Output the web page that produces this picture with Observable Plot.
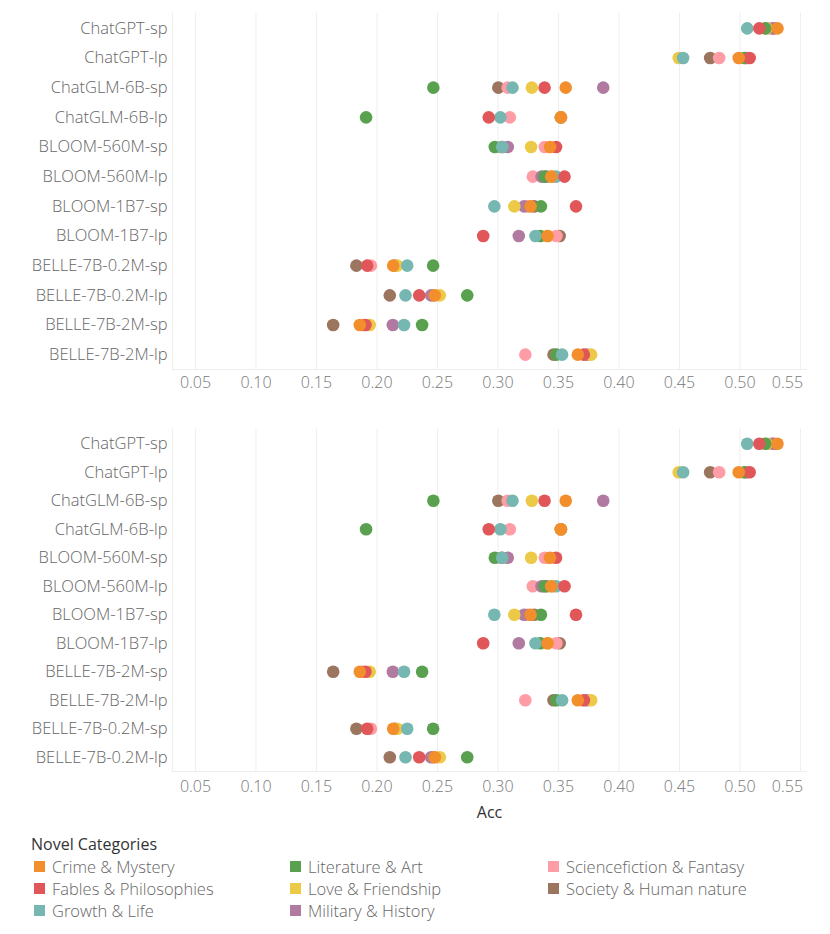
<!DOCTYPE html>
<html>
<head>
<meta charset="utf-8">
<script src="https://cdn.jsdelivr.net/npm/d3@7"></script>
<script src="https://cdn.jsdelivr.net/npm/@observablehq/plot@0.6"></script>
<style>
  body { margin: 0; background: #fff; }
  #wrap { position: relative; width: 830px; height: 934px; font-family: "Open Sans", sans-serif; }
  #top, #bottom, #legend { position: absolute; left: 0; }
  #top { top: 0; }
  #bottom { top: 415px; }
  #legend { top: 833px; left: 31px; }
  #legend .title { font-size: 16px; color: #333; font-weight: 500; height: 22px; line-height: 22px; }
  #legend .grid { display: grid; grid-template-rows: repeat(3, 22px); grid-auto-flow: column; grid-template-columns: 256px 258px 260px; }
  #legend .item { display: flex; align-items: center; font-size: 16.5px; color: #666; font-weight: 300; white-space: nowrap; }
  #legend .sw { width: 11px; height: 11px; margin-left: 3px; margin-right: 7px; }
</style>
</head>
<body>
<div id="wrap">
  <div id="top"></div>
  <div id="bottom"></div>
  <div id="legend"></div>
</div>
<script>
// Categories in legend order
const categories = [
  "Crime & Mystery", "Fables & Philosophies", "Growth & Life",
  "Literature & Art", "Love & Friendship", "Military & History",
  "Sciencefiction & Fantasy", "Society & Human nature"
];
const colors = ["#F28E2B", "#E15759", "#76B7B2", "#59A14F", "#EDC948", "#B07AA1", "#FF9DA7", "#9C755F"];

// Models (canonical order = top panel order)
const models = [
  "ChatGPT-sp", "ChatGPT-lp", "ChatGLM-6B-sp", "ChatGLM-6B-lp",
  "BLOOM-560M-sp", "BLOOM-560M-lp", "BLOOM-1B7-sp", "BLOOM-1B7-lp",
  "BELLE-7B-0.2M-sp", "BELLE-7B-0.2M-lp", "BELLE-7B-2M-sp", "BELLE-7B-2M-lp"
];
const modelsBottom = [
  "ChatGPT-sp", "ChatGPT-lp", "ChatGLM-6B-sp", "ChatGLM-6B-lp",
  "BLOOM-560M-sp", "BLOOM-560M-lp", "BLOOM-1B7-sp", "BLOOM-1B7-lp",
  "BELLE-7B-2M-sp", "BELLE-7B-2M-lp", "BELLE-7B-0.2M-sp", "BELLE-7B-0.2M-lp"
];

// Accuracy per category, aligned with `models`
const crimeMystery       = [0.531, 0.499, 0.356, 0.352, 0.343, 0.344, 0.327, 0.341, 0.2134, 0.2478, 0.1858, 0.366];
const fablesPhilosophies = [0.516, 0.508, 0.3385, 0.2924, 0.348, 0.355, 0.3645, 0.2878, 0.1919, 0.2349, 0.1905, 0.371];
const growthLife         = [0.506, 0.453, 0.312, 0.302, 0.3035, 0.348, 0.297, 0.331, 0.225, 0.2236, 0.2224, 0.353];
const literatureArt      = [0.521, 0.5037, 0.2466, 0.191, 0.2974, 0.3384, 0.3355, 0.335, 0.2464, 0.2746, 0.2373, 0.3483];
const loveFriendship     = [0.522, 0.4494, 0.328, 0.352, 0.3274, 0.345, 0.3135, 0.341, 0.2167, 0.2519, 0.194, 0.377];
const militaryHistory    = [0.528, 0.505, 0.387, 0.352, 0.3081, 0.336, 0.3216, 0.3172, 0.215, 0.2448, 0.2131, 0.3736];
const scifiFantasy       = [0.525, 0.4828, 0.308, 0.3098, 0.3387, 0.3288, 0.3247, 0.3483, 0.195, 0.247, 0.188, 0.3226];
const societyHuman       = [0.527, 0.4754, 0.3003, 0.352, 0.303, 0.340, 0.330, 0.351, 0.183, 0.2106, 0.1638, 0.3459];

const seriesValues = [crimeMystery, fablesPhilosophies, growthLife, literatureArt,
                      loveFriendship, militaryHistory, scifiFantasy, societyHuman];

const xTicks = [0.05, 0.10, 0.15, 0.20, 0.25, 0.30, 0.35, 0.40, 0.45, 0.50, 0.55];

// Build rows: draw in reverse legend order so the first legend items sit on top
const data = [];
for (let c = categories.length - 1; c >= 0; c--) {
  models.forEach((m, i) => data.push({ model: m, category: categories[c], acc: seriesValues[c][i] }));
}

function panel(order, opts) {
  const fmt = d3.format(".2f");
  const marks = [
    Plot.gridX(xTicks, { stroke: "#eeeeee", strokeOpacity: 1 }),
    Plot.frame({ anchor: "left", stroke: "#eeeeee", strokeOpacity: 1 }),
    Plot.frame({ anchor: "bottom", stroke: "#eeeeee", strokeOpacity: 1 }),
    Plot.axisY({ tickSize: 0, tickPadding: 5, label: null, fill: "#666", fontSize: 16.5, fontWeight: 300 }),
    Plot.axisX(xTicks.slice(0, -1), { tickSize: 0, tickPadding: opts.tickPad, tickFormat: fmt, label: null, fill: "#777", fontSize: 16, fontWeight: 300 }),
    Plot.axisX(xTicks.slice(-1), { tickSize: 0, tickPadding: opts.tickPad, tickFormat: fmt, label: null, fill: "#777", fontSize: 16, fontWeight: 300, dx: -13 }),
    Plot.dot(data, { x: "acc", y: "model", fill: "category", r: 6.3, fillOpacity: 1 })
  ];
  if (opts.xlabel) {
    marks.push(Plot.text([opts.xlabel], { frameAnchor: "bottom", dy: 46, fill: "#333", fontSize: 16 }));
  }
  return Plot.plot({
    width: 830,
    height: opts.height,
    marginLeft: 172,
    marginRight: 24,
    marginTop: opts.marginTop,
    marginBottom: opts.marginBottom,
    style: { fontFamily: "Open Sans, sans-serif", fontSize: "16px", color: "#666", background: "#fff" },
    x: { domain: [0.031, 0.555] },
    y: { domain: order, label: null, round: false },
    color: { domain: categories, range: colors },
    marks
  });
}

document.getElementById("top").appendChild(panel(models, { height: 400, marginTop: 13, marginBottom: 31, tickPad: 7 }));
document.getElementById("bottom").appendChild(panel(modelsBottom, { height: 412, marginTop: 14, marginBottom: 56, tickPad: 9, xlabel: "Acc" }));

// Legend
const legend = document.getElementById("legend");
const title = document.createElement("div");
title.className = "title";
title.textContent = "Novel Categories";
legend.appendChild(title);
const grid = document.createElement("div");
grid.className = "grid";
categories.forEach((c, i) => {
  const item = document.createElement("div");
  item.className = "item";
  const sw = document.createElement("span");
  sw.className = "sw";
  sw.style.background = colors[i];
  const t = document.createElement("span");
  t.textContent = c;
  item.appendChild(sw);
  item.appendChild(t);
  grid.appendChild(item);
});
legend.appendChild(grid);
</script>
</body>
</html>
